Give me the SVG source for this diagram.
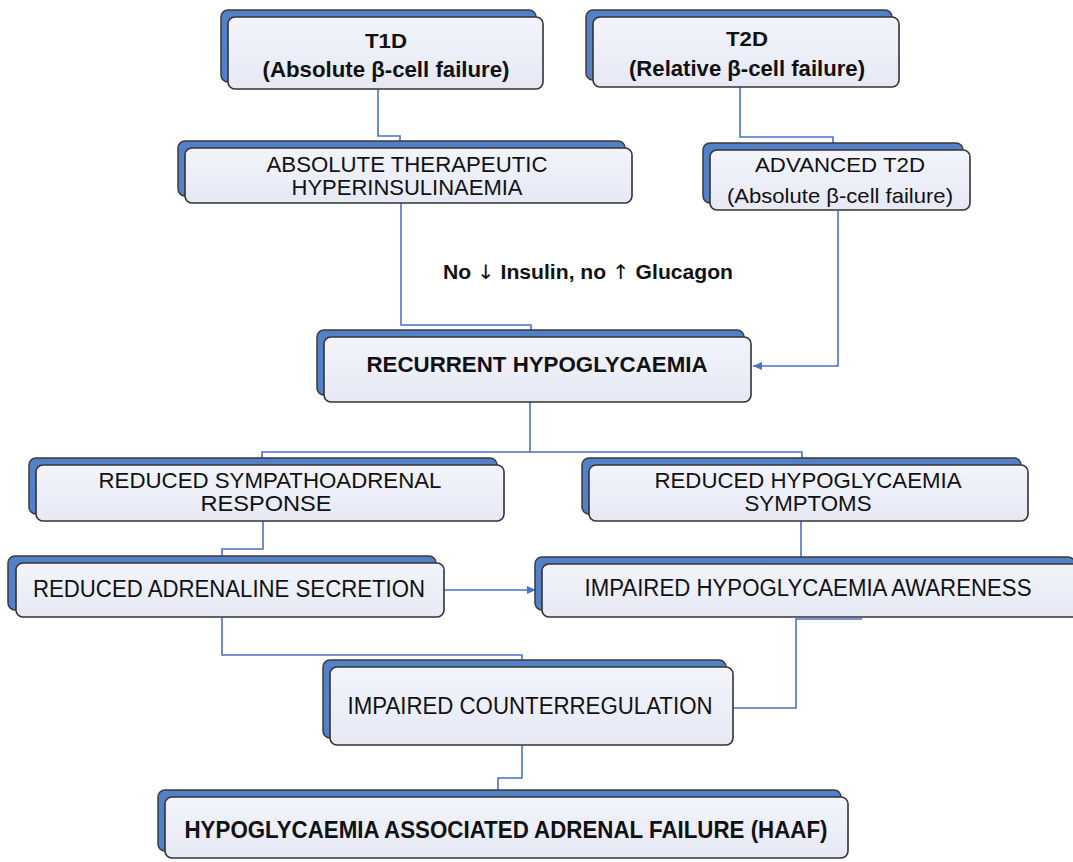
<svg xmlns="http://www.w3.org/2000/svg" width="1073" height="862" viewBox="0 0 1073 862">
<defs>
<linearGradient id="fg" x1="0" y1="0" x2="0" y2="1">
<stop offset="0" stop-color="#f3f4fb"/>
<stop offset="0.5" stop-color="#eceef8"/>
<stop offset="1" stop-color="#e6e8f4"/>
</linearGradient>
<marker id="arr" markerWidth="10" markerHeight="10" refX="9" refY="5" orient="auto" markerUnits="userSpaceOnUse">
<path d="M0,1 L9,5 L0,9 z" fill="#4a72c4"/>
</marker>
</defs>
<style>
.back{fill:#5480c8;stroke:#3a3a3a;stroke-width:1.5}
.front{fill:url(#fg);stroke:#333;stroke-width:1.6}
.t{font-family:"Liberation Sans",Arial,sans-serif;fill:#111;text-anchor:middle}
.b{font-weight:bold}
.sym{font-family:"DejaVu Sans",sans-serif;fill:#111}
.conn{fill:none;stroke:#4a72c4;stroke-width:1.6}
</style>
<rect width="1073" height="862" fill="#ffffff"/>

<g id="connectors">
<path class="conn" d="M378,89 V136 H400 V141"/>
<path class="conn" d="M740,87 V137 H833 V143"/>
<path class="conn" d="M401,203 V325 H531 V330"/>
<path class="conn" d="M838,211 V366 H753" marker-end="url(#arr)"/>
<path class="conn" d="M530,402 V452"/>
<path class="conn" d="M262,459 V452 H802 V459"/>
<path class="conn" d="M263,521 V549 H222 V556"/>
<path class="conn" d="M801,521 V557"/>
<path class="conn" d="M444,590 H536" marker-end="url(#arr)"/>
<path class="conn" d="M222,617 V655 H522 V660"/>
<path class="conn" d="M862,619 H796 V708 H733"/>
<path class="conn" d="M522,745 V778 H498 V790"/>
</g>

<g id="t1d">
<rect class="back" x="221" y="10" width="315" height="72" rx="7"/>
<rect class="front" x="228" y="17" width="315" height="72" rx="7"/>
<text class="t b" x="386" y="48" font-size="21" textLength="42" lengthAdjust="spacingAndGlyphs">T1D</text>
<text class="t b" x="386" y="77" font-size="22" textLength="247" lengthAdjust="spacingAndGlyphs">(Absolute β-cell failure)</text>
</g>

<g id="t2d">
<rect class="back" x="586" y="10" width="306" height="70" rx="7"/>
<rect class="front" x="593" y="17" width="306" height="70" rx="7"/>
<text class="t b" x="747" y="46" font-size="21" textLength="42" lengthAdjust="spacingAndGlyphs">T2D</text>
<text class="t b" x="747" y="76" font-size="22" textLength="236" lengthAdjust="spacingAndGlyphs">(Relative β-cell failure)</text>
</g>

<g id="absolute">
<rect class="back" x="178" y="141" width="447" height="55" rx="7"/>
<rect class="front" x="185" y="148" width="447" height="55" rx="7"/>
<text class="t" x="407" y="172" font-size="22" textLength="281" lengthAdjust="spacingAndGlyphs">ABSOLUTE THERAPEUTIC</text>
<text class="t" x="407" y="195" font-size="22" textLength="231" lengthAdjust="spacingAndGlyphs">HYPERINSULINAEMIA</text>
</g>

<g id="advanced">
<rect class="back" x="703" y="143" width="260" height="60" rx="7"/>
<rect class="front" x="710" y="150" width="260" height="60" rx="7"/>
<text class="t" x="840" y="172" font-size="21" textLength="170" lengthAdjust="spacingAndGlyphs">ADVANCED T2D</text>
<text class="t" x="840" y="203" font-size="21" textLength="226" lengthAdjust="spacingAndGlyphs">(Absolute β-cell failure)</text>
</g>

<g id="label">
<text class="t b" x="588" y="279" font-size="20" textLength="290" lengthAdjust="spacingAndGlyphs">No <tspan class="sym" font-weight="normal">↓</tspan> Insulin, no <tspan class="sym" font-weight="normal">↑</tspan> Glucagon</text>
</g>

<g id="recurrent">
<rect class="back" x="317" y="330" width="427" height="65" rx="7"/>
<rect class="front" x="324" y="337" width="427" height="65" rx="7"/>
<text class="t b" x="537" y="372" font-size="22" textLength="341" lengthAdjust="spacingAndGlyphs">RECURRENT HYPOGLYCAEMIA</text>
</g>

<g id="sympathoadrenal">
<rect class="back" x="29" y="458" width="468" height="56" rx="7"/>
<rect class="front" x="36" y="465" width="468" height="56" rx="7"/>
<text class="t" x="270" y="488" font-size="22" textLength="343" lengthAdjust="spacingAndGlyphs">REDUCED SYMPATHOADRENAL</text>
<text class="t" x="266" y="511" font-size="22" textLength="131" lengthAdjust="spacingAndGlyphs">RESPONSE</text>
</g>

<g id="symptoms">
<rect class="back" x="582" y="458" width="439" height="56" rx="7"/>
<rect class="front" x="589" y="465" width="439" height="56" rx="7"/>
<text class="t" x="808" y="488" font-size="22" textLength="307" lengthAdjust="spacingAndGlyphs">REDUCED HYPOGLYCAEMIA</text>
<text class="t" x="808" y="511" font-size="22" textLength="127" lengthAdjust="spacingAndGlyphs">SYMPTOMS</text>
</g>

<g id="adrenaline">
<rect class="back" x="8" y="556" width="428" height="54" rx="7"/>
<rect class="front" x="16" y="563" width="428" height="54" rx="7"/>
<text class="t" x="229" y="597" font-size="23" textLength="392" lengthAdjust="spacingAndGlyphs">REDUCED ADRENALINE SECRETION</text>
</g>

<g id="awareness">
<rect class="back" x="535" y="557" width="540" height="53" rx="7"/>
<rect class="front" x="542" y="564" width="540" height="53" rx="7"/>
<text class="t" x="808" y="596" font-size="23" textLength="447" lengthAdjust="spacingAndGlyphs">IMPAIRED HYPOGLYCAEMIA AWARENESS</text>
</g>

<g id="counterregulation">
<rect class="back" x="323" y="660" width="403" height="78" rx="7"/>
<rect class="front" x="330" y="667" width="403" height="78" rx="7"/>
<text class="t" x="530" y="714" font-size="23" textLength="365" lengthAdjust="spacingAndGlyphs">IMPAIRED COUNTERREGULATION</text>
</g>

<g id="haaf">
<rect class="back" x="158" y="790" width="683" height="61" rx="7"/>
<rect class="front" x="165" y="797" width="683" height="61" rx="7"/>
<text class="t b" x="506" y="838" font-size="23" textLength="643" lengthAdjust="spacingAndGlyphs">HYPOGLYCAEMIA ASSOCIATED ADRENAL FAILURE (HAAF)</text>
</g>
</svg>
